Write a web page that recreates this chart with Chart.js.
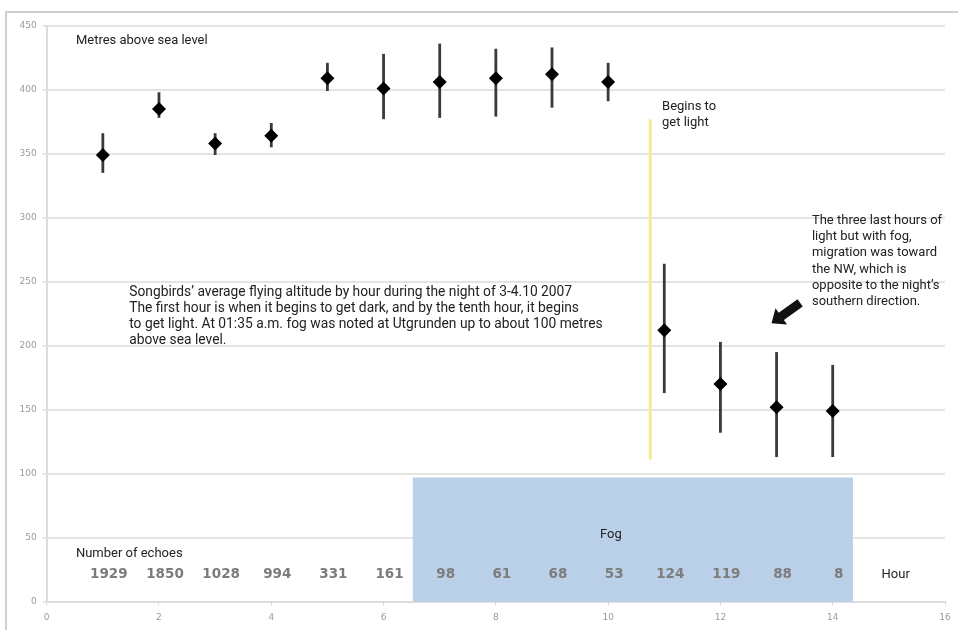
<!DOCTYPE html>
<html>
<head>
<meta charset="utf-8">
<script src="https://cdn.jsdelivr.net/npm/chart.js@4/dist/chart.umd.min.js"></script>
<style>
  html, body { margin: 0; padding: 0; background: #fff; }
  #wrap { position: relative; width: 958px; height: 630px; }
</style>
</head>
<body>
<div id="wrap"><canvas id="c" width="958" height="630"></canvas></div>
<script>
// Hour of the night (1 = dusk)
const hours = [1, 2, 3, 4, 5, 6, 7, 8, 9, 10, 11, 12, 13, 14];
// Mean flying altitude, metres above sea level
const meanAltitude = [349, 385, 358, 364, 409, 401, 406, 409, 412, 406, 212, 170, 152, 149];
// Upper and lower ends of the spread bars
const altitudeHigh = [366, 398, 366, 374, 421, 428, 436, 432, 433, 421, 264, 203, 195, 185];
const altitudeLow  = [335, 378, 349, 355, 399, 377, 378, 379, 386, 391, 163, 132, 113, 113];
// Radar echoes counted per hour
const echoCounts = [1929, 1850, 1028, 994, 331, 161, 98, 61, 68, 53, 124, 119, 88, 8];
// Axis ticks
const xTicks = [0, 2, 4, 6, 8, 10, 12, 14, 16];
const yTicks = [0, 50, 100, 150, 200, 250, 300, 350, 400, 450];
// Fog band (hours) and its height (m), and the hour when it begins to get light
const fogFrom = 6.52, fogTo = 14.36, fogHeight = 97;
const dawnHour = 10.75, dawnFrom = 111, dawnTo = 377;

const paragraph = [
  "Songbirds\u2019 average flying altitude by hour during the night of 3-4.10 2007",
  "The first hour is when it begins to get dark, and by the tenth hour, it begins",
  "to get light. At 01:35 a.m. fog was noted at Utgrunden up to about 100 metres",
  "above sea level."
];
const fogNote = [
  "The three last hours of",
  "light but with fog,",
  "migration was toward",
  "the NW, which is",
  "opposite to the night\u2019s",
  "southern direction."
];

const FAMILY = 'Roboto, "Liberation Sans", Arial, sans-serif';

// Outer frame, fog band, dawn marker and spread bars go under the data
const backdrop = {
  id: 'backdrop',
  beforeDraw(chart) {
    const ctx = chart.ctx;
    ctx.save();
    ctx.strokeStyle = '#cfcfcf';
    ctx.lineWidth = 2;
    ctx.beginPath();
    ctx.moveTo(6, 630);
    ctx.lineTo(6, 12);
    ctx.lineTo(958, 12);
    ctx.stroke();
    ctx.restore();
  },
  beforeDatasetsDraw(chart) {
    const { ctx, scales: { x, y } } = chart;
    ctx.save();
    // fog
    ctx.fillStyle = '#b9d0e8';
    const fx0 = x.getPixelForValue(fogFrom), fx1 = x.getPixelForValue(fogTo);
    const fy0 = y.getPixelForValue(fogHeight), fy1 = y.getPixelForValue(0);
    ctx.fillRect(fx0, fy0, fx1 - fx0, fy1 - fy0);
    // dawn
    ctx.strokeStyle = '#f6eb93';
    ctx.lineWidth = 3;
    ctx.beginPath();
    ctx.moveTo(x.getPixelForValue(dawnHour), y.getPixelForValue(dawnTo));
    ctx.lineTo(x.getPixelForValue(dawnHour), y.getPixelForValue(dawnFrom));
    ctx.stroke();
    // spread bars
    ctx.strokeStyle = '#3a3a3a';
    ctx.lineWidth = 2.8;
    hours.forEach((h, i) => {
      const px = x.getPixelForValue(h);
      ctx.beginPath();
      ctx.moveTo(px, y.getPixelForValue(altitudeHigh[i]));
      ctx.lineTo(px, y.getPixelForValue(altitudeLow[i]));
      ctx.stroke();
    });
    ctx.restore();
  },
  afterDatasetsDraw(chart) {
    const { ctx, scales: { x, y } } = chart;
    ctx.save();
    ctx.fillStyle = '#222';
    ctx.font = '13px ' + FAMILY;
    ctx.textBaseline = 'middle';
    ctx.textAlign = 'left';
    ctx.fillText('Metres above sea level', x.getPixelForValue(0.52), y.getPixelForValue(438));
    ctx.fillText('Number of echoes', x.getPixelForValue(0.52), y.getPixelForValue(37.8));
    ctx.fillText('Begins to', x.getPixelForValue(10.96), y.getPixelForValue(386.7));
    ctx.fillText('get light', x.getPixelForValue(10.96), y.getPixelForValue(386.7) + 16);
    fogNote.forEach((t, i) => ctx.fillText(t, x.getPixelForValue(13.63), y.getPixelForValue(297.7) + i * 16.3));
    ctx.fillText('Hour', x.getPixelForValue(14.87), y.getPixelForValue(20.9));
    ctx.font = '13.8px ' + FAMILY;
    paragraph.forEach((t, i) => ctx.fillText(t, x.getPixelForValue(1.47), y.getPixelForValue(241.4) + i * 16));
    ctx.font = '13px ' + FAMILY;
    ctx.textAlign = 'center';
    ctx.fillText('Fog', x.getPixelForValue(10.05), y.getPixelForValue(52));
    // echo counts
    ctx.font = 'bold 13.5px "DejaVu Sans", sans-serif';
    ctx.fillStyle = '#7c7c7c';
    hours.forEach((h, i) => {
      ctx.fillText(String(echoCounts[i]), x.getPixelForValue(h) + 6, y.getPixelForValue(20.9));
    });
    // arrow towards the NW-bound hours
    const tx = x.getPixelForValue(13.42), ty = y.getPixelForValue(233.4);
    const hx = x.getPixelForValue(12.91), hy = y.getPixelForValue(217.5);
    const ang = Math.atan2(hy - ty, hx - tx);
    const len = Math.hypot(hx - tx, hy - ty);
    ctx.translate(tx, ty);
    ctx.rotate(ang);
    ctx.fillStyle = '#111';
    ctx.beginPath();
    ctx.moveTo(0, -4.5);
    ctx.lineTo(len - 12, -4.5);
    ctx.lineTo(len - 12, -10);
    ctx.lineTo(len, 0);
    ctx.lineTo(len - 12, 10);
    ctx.lineTo(len - 12, 4.5);
    ctx.lineTo(0, 4.5);
    ctx.closePath();
    ctx.fill();
    ctx.restore();
  }
};

new Chart(document.getElementById('c'), {
  type: 'scatter',
  data: {
    datasets: [{
      data: hours.map((h, i) => ({ x: h, y: meanAltitude[i] })),
      pointStyle: 'rectRot',
      pointRadius: 7,
      pointHoverRadius: 7,
      backgroundColor: '#000',
      borderColor: '#000',
      borderWidth: 0,
      showLine: false
    }]
  },
  options: {
    responsive: false,
    animation: false,
    events: [],
    layout: { padding: { left: 6, top: 25.7, right: 13, bottom: 0 } },
    plugins: { legend: { display: false }, tooltip: { enabled: false } },
    scales: {
      x: {
        type: 'linear',
        min: 0, max: 16,
        afterBuildTicks(scale) { scale.ticks = xTicks.map(v => ({ value: v })); },
        afterFit(scale) { scale.height = 28.3; },
        grid: { drawOnChartArea: false, color: '#dcdcdc', tickLength: 4, lineWidth: 1 },
        border: { color: '#dcdcdc', width: 2 },
        ticks: { color: '#9a9a9a', font: { size: 9, family: '"DejaVu Sans", sans-serif' }, padding: 7 }
      },
      y: {
        type: 'linear',
        min: 0, max: 450,
        afterBuildTicks(scale) { scale.ticks = yTicks.map(v => ({ value: v })); },
        afterFit(scale) { scale.width = 40.7; },
        grid: { color: '#e4e4e4', lineWidth: 2, tickLength: 4 },
        border: { color: '#dcdcdc', width: 2 },
        ticks: { color: '#9a9a9a', font: { size: 9, family: '"DejaVu Sans", sans-serif' }, padding: 6 }
      }
    }
  },
  plugins: [backdrop]
});
</script>
</body>
</html>
